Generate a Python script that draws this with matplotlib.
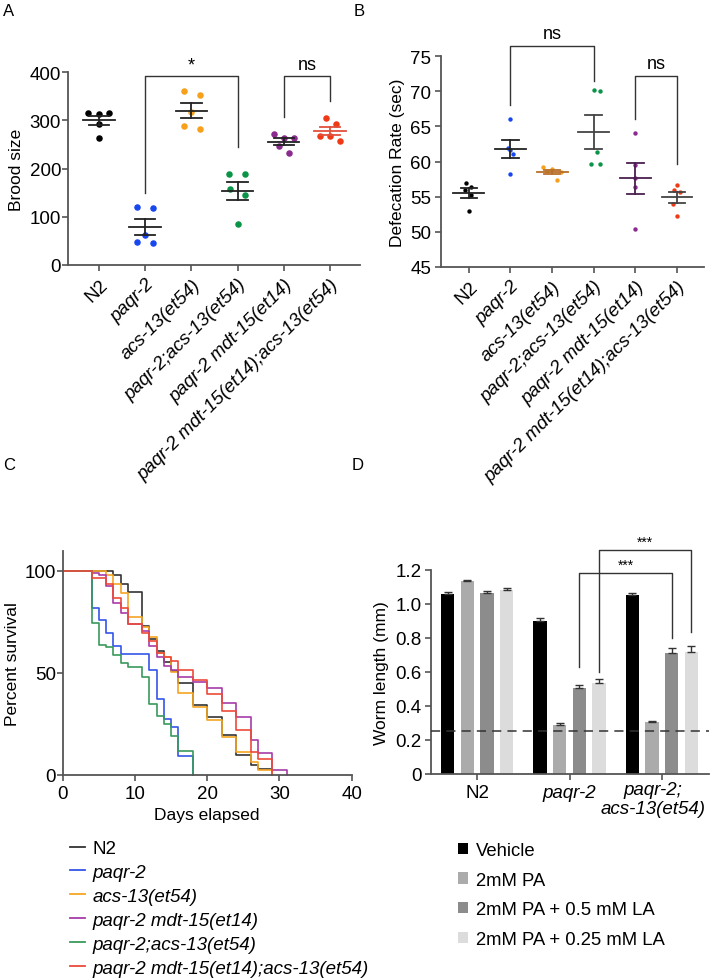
import numpy as np
import matplotlib.pyplot as plt
from matplotlib.lines import Line2D
from matplotlib.patches import Patch

plt.rcParams['font.family'] = ['Liberation Sans', 'DejaVu Sans']

# ---------------- data ----------------
strains = ['N2', 'paqr-2', 'acs-13(et54)', 'paqr-2;acs-13(et54)',
           'paqr-2 mdt-15(et14)', 'paqr-2 mdt-15(et14);acs-13(et54)']
dot_colors = ['#000000', '#1747f0', '#f7a01c', '#0a9447', '#8b2a8f', '#f03a17']

# panel A, brood size per worm
brood = [
    [316, 314, 312, 292, 264],
    [121, 119, 63, 47, 45],
    [361, 352, 318, 288, 281],
    [189, 188, 157, 146, 86],
    [271, 264, 264, 246, 232],
    [305, 293, 268, 267, 257],
]

# panel B, defecation rate (sec)
defec = [
    [57.0, 56.4, 55.9, 55.2, 53.0],
    [66.0, 61.9, 61.7, 61.0, 58.2],
    [59.2, 58.9, 58.7, 58.5, 57.4],
    [70.2, 70.0, 61.4, 59.7, 59.7],
    [64.0, 59.5, 57.7, 56.4, 50.4],
    [56.7, 56.0, 55.7, 54.0, 52.2],
]

# panel C, survival curves (day, percent alive)
surv_labels = ['N2', 'paqr-2', 'acs-13(et54)', 'paqr-2 mdt-15(et14)',
               'paqr-2;acs-13(et54)', 'paqr-2 mdt-15(et14);acs-13(et54)']
surv_colors = ['#333333', '#3355e8', '#f5a623', '#a53ca8', '#3a9a5c', '#ec4a3a']
n2_days = [0, 7, 8, 9, 11, 12, 13, 14, 15, 16, 18, 20, 22, 24, 26, 27, 29]
n2_pct = [100, 98, 93.5, 89.6, 72.8, 66.8, 61, 55.5, 51, 44.9, 34.4, 28.6, 19.4, 9.8, 5.1, 2.9, 0]
paqr_days = [0, 4, 5, 6, 7, 8, 12, 13, 14, 15, 16, 18]
paqr_pct = [100, 81.7, 76, 69.4, 63.4, 59.4, 51.6, 37.5, 27.4, 23.3, 9.1, 0]
acs_days = [0, 6, 7, 8, 9, 11, 12, 13, 14, 15, 16, 18, 20, 22, 24, 26, 27, 29]
acs_pct = [100, 98, 93.4, 89, 77.3, 72.4, 67.5, 60, 58, 50.5, 40, 33.2, 27.1, 18.8, 11.1, 6.2, 2.4, 0]
mdt_days = [0, 4, 5, 6, 7, 8, 9, 11, 12, 13, 14, 15, 16, 18, 20, 22, 24, 26, 27, 29, 31]
mdt_pct = [100, 99.2, 98.2, 92.6, 84.4, 79.2, 73.9, 70.5, 63.1, 57.9, 53.6, 51.6, 48.2, 45.4,
           42.5, 35.1, 28.3, 17.1, 10.8, 2.4, 0]
paqr_acs_days = [0, 4, 5, 6, 7, 8, 9, 11, 12, 13, 14, 15, 16, 18]
paqr_acs_pct = [100, 74.4, 63.8, 62.8, 58.7, 55, 53, 47.9, 35, 29, 25, 19.3, 11.9, 0]
mdt_acs_days = [0, 4, 6, 7, 8, 9, 11, 12, 13, 14, 15, 16, 18, 20, 22, 24, 26, 27, 29]
mdt_acs_pct = [100, 96.5, 93.4, 86.9, 82, 74.1, 69.7, 65.6, 59.8, 57.7, 56, 51.5, 46.6, 39.7,
               31.5, 22.1, 11.1, 7.8, 0]
surv_days = [n2_days, paqr_days, acs_days, mdt_days, paqr_acs_days, mdt_acs_days]
surv_pct = [n2_pct, paqr_pct, acs_pct, mdt_pct, paqr_acs_pct, mdt_acs_pct]

# panel D, worm length (mm)
groups = ['N2', 'paqr-2', 'paqr-2;\nacs-13(et54)']
treatments = ['Vehicle', '2mM PA', '2mM PA + 0.5 mM LA', '2mM PA + 0.25 mM LA']
treat_colors = ['#000000', '#ababab', '#8c8c8c', '#dcdcdc']
length_mean = [
    [1.057, 1.132, 1.063, 1.080],
    [0.896, 0.286, 0.504, 0.534],
    [1.051, 0.302, 0.708, 0.716],
]
length_err = [
    [0.010, 0.010, 0.012, 0.014],
    [0.020, 0.010, 0.018, 0.024],
    [0.014, 0.010, 0.030, 0.037],
]
cutoff = 0.25

# ---------------- layout ----------------
W, H = 710, 979
fig = plt.figure(figsize=(W / 100, H / 100), dpi=100)


def px_axes(left, top, right, bottom):
    return fig.add_axes([left / W, 1 - bottom / H, (right - left) / W, (bottom - top) / H])


spine_col = '#555555'
tick_fs = 13.5
label_fs = 12.5


def style(ax, ypad=3):
    for s in ['top', 'right']:
        ax.spines[s].set_visible(False)
    for s in ['left', 'bottom']:
        ax.spines[s].set_color(spine_col)
        ax.spines[s].set_linewidth(1.3)
    ax.tick_params(colors=spine_col, width=1.2, length=4, labelcolor='black', labelsize=tick_fs)
    ax.tick_params(axis='y', pad=ypad)


# jitter offsets for the dot plots
jit_a = [[-0.23, 0.22, 0, 0, 0], [-0.18, 0.16, 0, -0.18, 0.16], [-0.17, 0.18, 0, -0.17, 0.18],
         [-0.18, 0.17, -0.17, 0.17, 0], [-0.22, 0, 0.22, -0.1, 0.12], [-0.09, 0.12, -0.22, 0, 0.22]]
jit_b = [[-0.06, 0.06, -0.1, 0.05, 0], [0, -0.07, 0, 0.06, 0], [-0.23, 0.0, -0.12, 0.22, 0.11],
         [0, 0.16, 0.08, -0.07, 0.16], [0, 0, 0, 0, 0], [0, -0.06, 0.07, -0.09, 0]]


def dotplot(ax, values, jit, size, mean_w, cap_w, line_cols):
    for i, vals in enumerate(values):
        v = np.array(vals)
        ax.scatter(i + np.array(jit[i]), v, s=size, color=dot_colors[i], zorder=3, linewidths=0)
        m = v.mean()
        sem = v.std(ddof=1) / np.sqrt(len(v))
        lc = line_cols[i]
        ax.plot([i - mean_w, i + mean_w], [m, m], color=lc, lw=1.3, zorder=4)
        ax.plot([i, i], [m - sem, m + sem], color=lc, lw=1.3, zorder=4)
        ax.plot([i - cap_w, i + cap_w], [m + sem, m + sem], color=lc, lw=1.3, zorder=4)
        ax.plot([i - cap_w, i + cap_w], [m - sem, m - sem], color=lc, lw=1.3, zorder=4)
    ax.set_xticks(range(len(strains)))
    labs = ax.set_xticklabels(strains, rotation=45, ha='right', va='top', rotation_mode='anchor')
    for t in labs[1:]:
        t.set_style('italic')


def bracket(ax, x1, x2, y1, y2, top, text, ty, fs=13):
    ax.plot([x1, x1, x2, x2], [y1, top, top, y2], color='#333333', lw=1.0, clip_on=False)
    ax.text((x1 + x2) / 2, ty, text, ha='center', va='bottom', fontsize=fs, clip_on=False)


# ---- A ----
axA = px_axes(68, 73, 360, 266)
style(axA, ypad=1)
dotplot(axA, brood, jit_a, 22, 0.34, 0.22,
        ['#222222', '#222222', '#222222', '#222222', '#222222', '#e0503c'])
axA.set_xlim(-0.67, 5.65)
axA.set_ylim(0, 400)
axA.set_yticks([0, 100, 200, 300, 400])
axA.set_ylabel('Brood size', fontsize=label_fs, labelpad=4)
bracket(axA, 1, 3, 150, 245, 392, '*', 397)
bracket(axA, 4, 5, 307, 340, 392, 'ns', 398)

# ---- B ----
axB = px_axes(441, 57, 704, 268)
style(axB, ypad=3)
dotplot(axB, defec, jit_b, 10, 0.37, 0.2,
        ['#222222', '#222222', '#b7702a', '#444444', '#4a1f4f', '#444444'])
axB.set_xlim(-0.67, 5.65)
axB.set_ylim(45, 75)
axB.set_yticks([45, 50, 55, 60, 65, 70, 75])
axB.set_ylabel('Defecation Rate (sec)', fontsize=label_fs, labelpad=4)
bracket(axB, 1, 3, 68.05, 71.4, 76.4, 'ns', 77.0)
bracket(axB, 4, 5, 66.05, 59.7, 72.1, 'ns', 72.7)

# ---- C ----
axC = px_axes(62.7, 551.6, 351.7, 776)
style(axC, ypad=1)
for d, p, c in zip(surv_days, surv_pct, surv_colors):
    axC.step(d, p, where='post', color=c, lw=1.2, clip_on=False)
axC.set_xlim(0, 40)
axC.set_ylim(0, 110)
axC.set_xticks([0, 10, 20, 30, 40])
axC.set_yticks([0, 50, 100])
axC.set_xlabel('Days elapsed', fontsize=label_fs, labelpad=3)
axC.set_ylabel('Percent survival', fontsize=label_fs, labelpad=3)

handles = [Line2D([], [], color=c, lw=1.3) for c in surv_colors]
legC = fig.legend(handles, surv_labels, loc='upper left', bbox_to_anchor=(70 / W, 1 - 841 / H),
                  frameon=False, fontsize=13.5, handlelength=0.8, handletextpad=0.4,
                  labelspacing=0.36, borderpad=0, borderaxespad=0)
for t in legC.get_texts()[1:]:
    t.set_style('italic')

# ---- D ----
axD = px_axes(431, 570.7, 709, 774.7)
style(axD, ypad=3)
bw = 0.144
step = 0.213
offs = (np.arange(len(treatments)) - 1.5) * step
xg = np.arange(len(groups))
for j, tr in enumerate(treatments):
    vals = [length_mean[g][j] for g in range(len(groups))]
    errs = [length_err[g][j] for g in range(len(groups))]
    axD.bar(xg + offs[j], vals, width=bw, color=treat_colors[j], zorder=2)
    axD.errorbar(xg + offs[j], vals, yerr=[np.zeros(len(errs)), errs], fmt='none',
                 ecolor='#333333', elinewidth=1.0, capsize=3, capthick=1.0, zorder=3)
axD.axhline(cutoff, color='#333333', lw=1.1, ls=(0, (6, 4)), zorder=4)
axD.set_xlim(-0.5, 2.51)
axD.set_ylim(0, 1.2)
axD.set_yticks([0, 0.2, 0.4, 0.6, 0.8, 1.0, 1.2])
axD.set_yticklabels(['0', '0.2', '0.4', '0.6', '0.8', '1.0', '1.2'])
axD.set_xticks(xg)
axD.set_xticklabels(['N2', 'paqr-2', ''], fontsize=13.5)
axD.get_xticklabels()[1].set_style('italic')
axD.text(1.9, -0.045, groups[2], transform=axD.transData, ha='center', va='top',
         fontsize=13.5, style='italic', linespacing=1.1)
axD.set_ylabel('Worm length (mm)', fontsize=label_fs, labelpad=4)
bracket(axD, 1 + offs[2], 2 + offs[2], 0.626, 0.80, 1.179, '***', 1.19, fs=10)
bracket(axD, 1 + offs[3], 2 + offs[3], 0.596, 0.832, 1.316, '***', 1.325, fs=10)

handlesD = [Patch(facecolor=c, edgecolor='none') for c in treat_colors]
fig.legend(handlesD, treatments, loc='upper left', bbox_to_anchor=(458 / W, 1 - 843 / H),
           frameon=False, fontsize=13.3, handlelength=0.55, handleheight=0.55,
           handletextpad=0.4, labelspacing=0.68, borderpad=0, borderaxespad=0)

# panel letters
for lab, x, y in [('A', 3, 4), ('B', 354, 4), ('C', 3, 458), ('D', 352, 458)]:
    fig.text(x / W, 1 - y / H, lab, fontsize=12, ha='left', va='top')

fig.savefig('out.png', dpi=100)
